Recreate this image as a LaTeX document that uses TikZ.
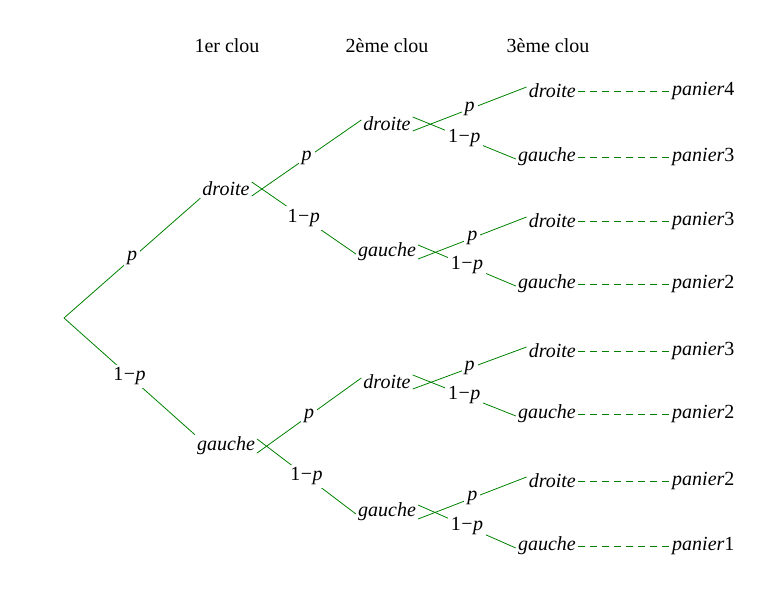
\documentclass[tikz,border=0pt]{standalone}
\usepackage{fontspec}
\setmainfont{Liberation Serif}
\newcommand{\pp}{\textit{p}}
\newcommand{\qq}{\upshape 1\kern0.5pt\textminus\kern0.5pt\textit{p}}
\begin{document}
\begin{tikzpicture}[x=1pt,y=-1pt,
  every node/.style={font=\fontsize{20}{22}\selectfont\itshape,inner sep=2pt},
  br/.style={draw=green!50!black,line width=0.8pt},
  lab/.style={fill=white,inner sep=3pt,midway},
  dsh/.style={draw=green!50!black,line width=0.8pt,dash pattern=on 7pt off 5pt},
  hd/.style={font=\fontsize{20}{22}\selectfont\upshape}]
\useasboundingbox (0,0) rectangle (775,591);
\node[hd] (h1) at (227,46) {1er clou};
\node[hd] (h2) at (387,46) {2ème clou};
\node[hd] (h3) at (548,46) {3ème clou};
\coordinate (r) at (64,318);
\node (d) at (226,189) {droite};
\node (g) at (226,446) {gauche};
\node (dd) at (387,124) {droite};
\node (dg) at (387,252) {gauche};
\node (gd) at (387,382) {droite};
\node (gg) at (387,512) {gauche};
\foreach \n/\y/\t/\k in {a/91/droite/4,b/157/gauche/3,c/221/droite/3,e/284/gauche/2,f/351/droite/3,h/414/gauche/2,i/481/droite/2,j/546/gauche/1}{
  \node[anchor=east] (\n) at (578,\y) {\t};
  \node[anchor=west] (p\n) at (670,\y) {panier\upshape\k};
  \draw[dsh] (\n.east) -- (p\n.west);
}
\draw[br] (r) -- node[lab]{\pp} (d.south west);
\draw[br] (r) -- node[lab]{\qq} (g.north west);
\foreach \u/\a/\b in {d/dd/dg,g/gd/gg,dd/a/b,dg/c/e,gd/f/h,gg/i/j}{
  \draw[br] ([yshift=-7pt]\u.east) -- node[lab]{\pp} ([yshift=4pt]\a.west);
  \draw[br] ([yshift=7pt]\u.east) -- node[lab]{\qq} ([yshift=-2pt]\b.west);
}
\end{tikzpicture}
\end{document}
